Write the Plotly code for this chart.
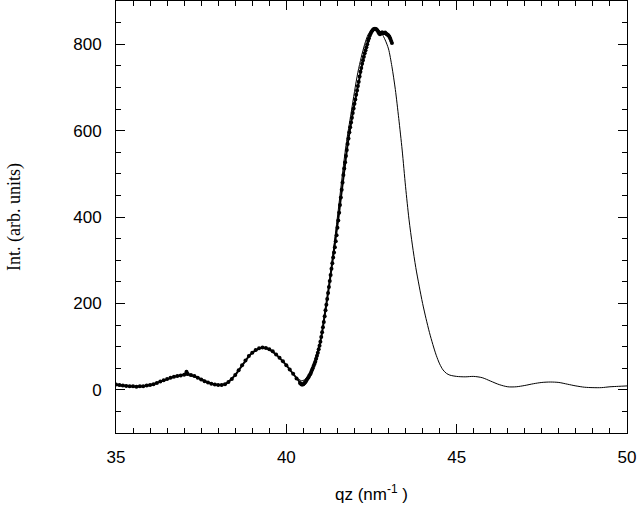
import numpy as np
import plotly.graph_objects as go

# ---- measured data (dots) ----
data_x_coarse = [35.0, 35.1, 35.2, 35.3, 35.4, 35.5, 35.6, 35.7, 35.8, 35.9,
                 36.0, 36.1, 36.2, 36.3, 36.4, 36.5, 36.6, 36.7, 36.8, 36.9,
                 37.0, 37.07, 37.1, 37.2, 37.3, 37.4, 37.5, 37.6, 37.7, 37.8, 37.9,
                 38.0, 38.1, 38.2, 38.3, 38.4, 38.5, 38.6, 38.7, 38.8, 38.9,
                 39.0, 39.1, 39.2, 39.3, 39.4, 39.5, 39.6, 39.7, 39.8, 39.9,
                 40.0, 40.1, 40.2, 40.3, 40.4]
data_y_coarse = [12, 11, 10, 9, 8, 8, 7, 8, 8, 10,
                 11, 13, 16, 19, 22, 25, 28, 30, 32, 33,
                 35, 42, 37, 34, 32, 28, 24, 20, 17, 14, 12,
                 11, 11, 13, 18, 25, 34, 45, 57, 68, 78,
                 86, 92, 96, 98, 97, 94, 89, 82, 74, 66,
                 57, 47, 37, 26, 16]

data_x_fine = [40.425, 40.45, 40.475, 40.5, 40.525, 40.55, 40.575, 40.6, 40.625, 40.65,
               40.675, 40.7, 40.725, 40.75, 40.775, 40.8, 40.825, 40.85, 40.875, 40.9,
               40.925, 40.95, 40.975, 41.0, 41.025, 41.05, 41.075, 41.1, 41.125, 41.15,
               41.175, 41.2, 41.225, 41.25, 41.275, 41.3, 41.325, 41.35, 41.375, 41.4,
               41.425, 41.45, 41.475, 41.5, 41.525, 41.55, 41.575, 41.6, 41.625, 41.65,
               41.675, 41.7, 41.725, 41.75, 41.775, 41.8, 41.825, 41.85, 41.875, 41.9,
               41.925, 41.95, 41.975, 42.0, 42.025, 42.05, 42.075, 42.1, 42.125, 42.15,
               42.175, 42.2, 42.225, 42.25, 42.275, 42.3, 42.325, 42.35, 42.375, 42.4,
               42.425, 42.45, 42.475, 42.5, 42.525, 42.55, 42.575, 42.6, 42.625, 42.65,
               42.675, 42.7, 42.725, 42.75, 42.775, 42.8, 42.825, 42.85, 42.875, 42.9,
               42.925, 42.95, 42.975, 43.0, 43.025, 43.05, 43.075, 43.1]
data_y_fine = [14, 12, 12, 13, 15, 17, 20, 23, 26, 29,
               33, 36, 40, 45, 50, 55, 60, 65, 72, 79,
               86, 94, 102, 111, 122, 133, 145, 157, 170, 184,
               197, 210, 224, 238, 252, 266, 280, 293, 306, 318,
               330, 344, 358, 375, 392, 410, 428, 445, 463, 480,
               497, 512, 527, 541, 555, 569, 582, 596, 608, 619,
               630, 641, 651, 662, 672, 683, 693, 703, 713, 725,
               736, 745, 755, 763, 771, 779, 786, 793, 800, 808,
               814, 820, 825, 829, 832, 834, 835, 836, 835, 834,
               832, 828, 825, 823, 825, 827, 827, 826, 826, 827,
               825, 823, 822, 820, 817, 813, 808, 803]

# ---- fitted curve (line) ----
fit_x = [35.0, 35.25, 35.5, 35.75, 36.0, 36.25, 36.5, 36.75, 37.0, 37.25,
         37.5, 37.75, 38.0, 38.25, 38.5, 38.75, 39.0, 39.25, 39.5, 39.75,
         40.0, 40.25, 40.45, 40.6, 40.75, 41.0, 41.25, 41.5, 41.75, 41.9,
         42.0, 42.1, 42.2, 42.3, 42.4, 42.5, 42.6, 42.7, 42.8, 42.9,
         43.0, 43.1, 43.2, 43.3, 43.4, 43.5, 43.6, 43.7, 43.8, 43.9,
         44.0, 44.1, 44.2, 44.3, 44.4, 44.5, 44.6, 44.7, 44.8, 45.0,
         45.25, 45.5, 45.75, 46.0, 46.25, 46.5, 46.75, 47.0, 47.25, 47.5,
         47.75, 48.0, 48.25, 48.5, 48.75, 49.0, 49.25, 49.5, 49.75, 50.0]
fit_y = [10, 8, 7, 7, 10, 17, 25, 31, 34, 31,
         24, 16, 11, 14, 33, 62, 85, 96, 93, 78,
         56, 32, 21, 27, 50, 114, 240, 400, 565, 640,
         690, 735, 770, 800, 822, 833, 837, 834, 825, 810,
         789, 748, 695, 628, 555, 470, 395, 335, 283, 240,
         200, 165, 133, 105, 80, 60, 46, 38, 34, 31,
         30, 31, 28, 20, 12, 7, 7, 10, 14, 17,
         18, 17, 13, 9, 6, 5, 5, 7, 8, 9]

y_title = "Int. (arb. units)"
x_title = "qz (nm<sup>-1</sup> )"

data_x = data_x_coarse + data_x_fine
data_y = data_y_coarse + data_y_fine

fig = go.Figure()
fig.add_trace(go.Scatter(x=fit_x, y=fit_y, mode="lines",
                         line=dict(color="black", width=1, shape="spline", smoothing=0.8),
                         showlegend=False))
fig.add_trace(go.Scatter(x=data_x, y=data_y, mode="lines+markers",
                         line=dict(color="black", width=2),
                         marker=dict(color="black", size=4),
                         showlegend=False))

axis_common = dict(showgrid=False, zeroline=False, showline=True, linecolor="black",
                   linewidth=1, mirror="ticks", ticks="inside", ticklen=9,
                   tickcolor="black", tickwidth=1,
                   tickfont=dict(family="Liberation Sans, Arial", size=17, color="black"))

fig.update_xaxes(range=[35, 50], dtick=5, tick0=35,
                 minor=dict(dtick=0.5, ticklen=5, ticks="inside", tickcolor="black"),
                 ticklabelstandoff=9,
                 title=dict(text=x_title, standoff=21,
                            font=dict(family="Liberation Sans, Arial", size=17, color="black")),
                 **axis_common)
fig.update_yaxes(range=[-100, 900], dtick=200, tick0=0,
                 minor=dict(dtick=50, ticklen=5, ticks="inside", tickcolor="black"),
                 ticklabelstandoff=10,
                 **axis_common)

fig.add_annotation(text=y_title, xref="paper", yref="paper",
                   x=-0.1996, y=0.5, xanchor="center", yanchor="middle",
                   textangle=-90, showarrow=False,
                   font=dict(family="Liberation Serif, Times New Roman", size=18, color="black"))

fig.update_layout(width=640, height=512, margin=dict(l=116, r=13, t=1, b=79),
                  plot_bgcolor="white", paper_bgcolor="white")

fig.write_html("out.html")
